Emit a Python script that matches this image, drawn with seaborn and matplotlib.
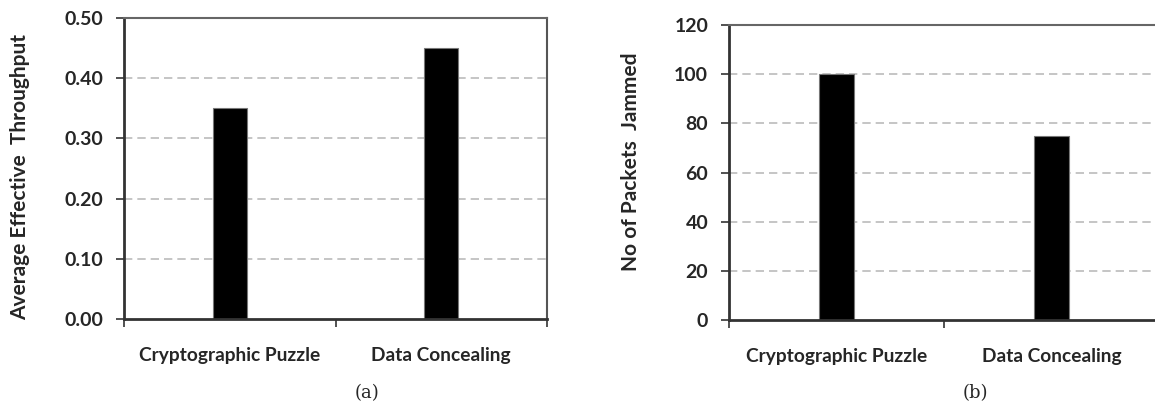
import matplotlib
matplotlib.use('Agg')
import matplotlib.pyplot as plt
import seaborn as sns
import pandas as pd

# data
categories = ['Cryptographic Puzzle', 'Data Concealing']
throughput = [0.35, 0.45]
packets_jammed = [100, 75]

throughput_ticks = [0.0, 0.1, 0.2, 0.3, 0.4, 0.5]
throughput_labels = ['0.00', '0.10', '0.20', '0.30', '0.40', '0.50']
jammed_ticks = [0, 20, 40, 60, 80, 100, 120]

sns.set_theme(style='white')
plt.rcParams['font.family'] = ['Lato', 'DejaVu Sans']

fig = plt.figure(figsize=(11.55, 4.05), dpi=100)
ax1 = fig.add_axes([124 / 1155, 1 - 319 / 405, 423 / 1155, 301 / 405])
ax2 = fig.add_axes([729 / 1155, 1 - 320 / 405, 430 / 1155, 295 / 405])

df_a = pd.DataFrame({'cat': categories, 'val': throughput})
df_b = pd.DataFrame({'cat': categories, 'val': packets_jammed})

sns.barplot(data=df_a, x='cat', y='val', color='black', width=0.16,
            edgecolor='#777777', linewidth=0.8, saturation=1, ax=ax1)
sns.barplot(data=df_b, x='cat', y='val', color='black', width=0.16,
            edgecolor='#777777', linewidth=0.8, saturation=1, ax=ax2)


def style_axes(ax, yticks, ylabels, ylabel, label_xy, tag, tag_x):
    ax.set_xlim(-0.5, 1.5)
    ax.set_ylim(yticks[0], yticks[-1])
    ax.set_yticks(yticks)
    ax.set_yticklabels(ylabels, fontsize=14, fontweight='bold')
    ax.set_xticks([0, 1])
    ax.set_xticklabels(categories, fontsize=13.8, fontweight='bold')
    ax.set_xticks([-0.5, 0.5, 1.5], minor=True)
    ax.tick_params(axis='x', which='major', length=0, pad=20)
    ax.tick_params(axis='x', which='minor', direction='out', length=6,
                   width=1.2, color='#333333', bottom=True)
    ax.tick_params(axis='y', direction='out', length=6, width=1.2,
                   color='#333333', left=True, pad=9)
    ax.set_xlabel('')
    ax.set_ylabel(ylabel, fontsize=15, fontweight='bold', va='center')
    ax.yaxis.set_label_coords(*label_xy)
    for yv in yticks[1:]:
        ax.axhline(yv, color='#bbbbbb', lw=1.2, ls=(0, (5, 3)), zorder=0)
    for side in ['left', 'bottom']:
        ax.spines[side].set_color('#333333')
        ax.spines[side].set_linewidth(2)
    ax.spines['top'].set_color('#666666')
    ax.spines['top'].set_linewidth(1.5)
    ax.spines['right'].set_color('#555555')
    ax.spines['right'].set_linewidth(1.5)
    ax.set_axisbelow(True)
    fig.text(tag_x / 1155, 1 - 393 / 405, tag, ha='center', va='center',
             fontsize=13, family=['DejaVu Serif'])


style_axes(ax1, throughput_ticks, throughput_labels,
           'Average Effective  Throughput', (-0.246, 0.472), '(a)', 367)
style_axes(ax2, jammed_ticks, [str(t) for t in jammed_ticks],
           'No of Packets  Jammed', (-0.228, 0.536), '(b)', 975)

fig.savefig('out.png', dpi=100)
